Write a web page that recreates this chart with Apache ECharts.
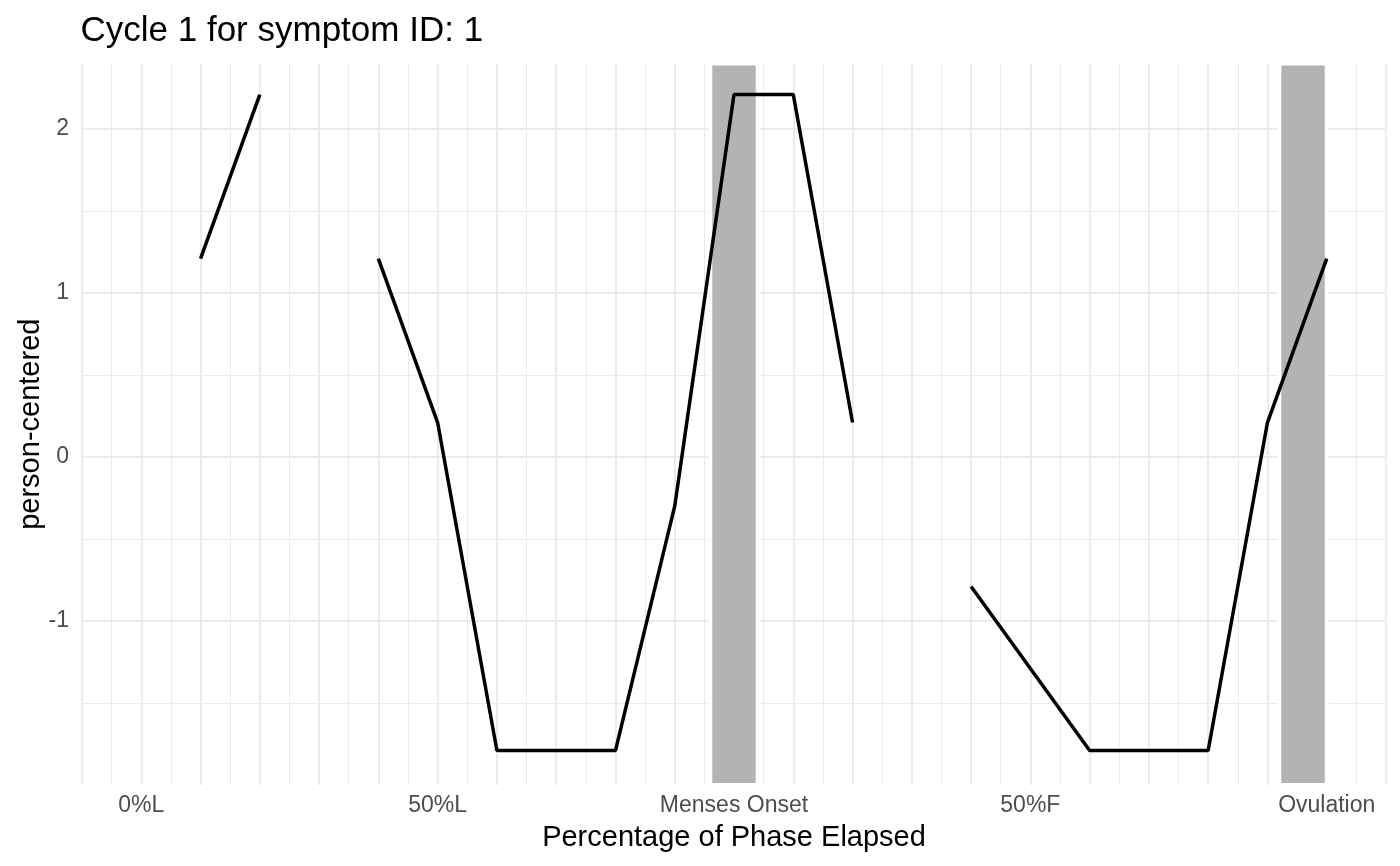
<!DOCTYPE html>
<html>
<head>
<meta charset="utf-8">
<script src="https://cdn.jsdelivr.net/npm/echarts@6/dist/echarts.min.js"></script>
<style>
html,body{margin:0;padding:0;background:#fff;}
#chart{width:1400px;height:866px;}
</style>
</head>
<body>
<div id="chart"></div>
<script>
// Data
const xValues = [0, 10, 20, 30, 40, 50, 60, 70, 80, 90, 100, 110, 120, 130, 140, 150, 160, 170, 180, 190, 200];
const personCentered = [null, 1.21, 2.21, null, 1.21, 0.21, -1.79, -1.79, -1.79, -0.30, 2.21, 2.21, 0.21, null, -0.79, -1.29, -1.79, -1.79, -1.79, 0.21, 1.21];
const tickPositions = [0, 50, 100, 150, 200];
const tickLabels = ['0%L', '50%L', 'Menses Onset', '50%F', 'Ovulation'];
const bandStarts = [96, 192];
const bandEnds = [104, 200];
const titleText = 'Cycle 1 for symptom ID: 1';
const xTitle = 'Percentage of Phase Elapsed';
const yTitle = 'person-centered';

const lineData = xValues.map((x, i) => [x, personCentered[i]]);
const bandData = bandStarts.map((s, i) => [{ xAxis: s }, { xAxis: bandEnds[i] }]);
const labelMap = {};
tickPositions.forEach((p, i) => { labelMap[p] = tickLabels[i]; });

const FONT = 'Liberation Sans, Arial, Helvetica, sans-serif';
const chart = echarts.init(document.getElementById('chart'), null, { renderer: 'canvas' });
chart.setOption({
  animation: false,
  backgroundColor: '#ffffff',
  title: {
    text: titleText,
    left: 80.5,
    top: 14,
    padding: 0,
    textStyle: { fontFamily: FONT, fontSize: 35, fontWeight: 'normal', color: '#000000' }
  },
  grid: { left: 82, right: 14, top: 63.4, bottom: 81, containLabel: false },
  xAxis: {
    type: 'value',
    min: -10,
    max: 210,
    interval: 10,
    name: xTitle,
    nameLocation: 'middle',
    nameGap: 38,
    nameMoveOverlap: false,
    nameTextStyle: { fontFamily: FONT, fontSize: 29, color: '#000000' },
    axisLine: { show: false },
    axisTick: { show: false },
    axisLabel: {
      margin: 9,
      fontFamily: FONT,
      fontSize: 23,
      color: '#4D4D4D',
      showMinLabel: true,
      showMaxLabel: true,
      formatter: v => (labelMap[v] !== undefined ? labelMap[v] : '')
    },
    splitLine: { show: true, lineStyle: { color: '#EBEBEB', width: 2 } },
    minorTick: { show: false, splitNumber: 2 },
    minorSplitLine: { show: true, lineStyle: { color: '#EBEBEB', width: 1 } }
  },
  yAxis: {
    type: 'value',
    min: -2,
    max: 2.4,
    interval: 1,
    name: yTitle,
    nameLocation: 'middle',
    nameGap: 37,
    nameMoveOverlap: false,
    nameRotate: 90,
    nameTextStyle: { fontFamily: FONT, fontSize: 29, color: '#000000' },
    axisLine: { show: false },
    axisTick: { show: false },
    axisLabel: {
      margin: 13,
      fontFamily: FONT,
      fontSize: 23,
      color: '#4D4D4D',
      formatter: v => (Number.isInteger(v) && v > -2 ? String(v) : '')
    },
    splitLine: { show: true, showMinLine: false, showMaxLine: false, lineStyle: { color: '#EBEBEB', width: 2 } },
    minorTick: { show: false, splitNumber: 2 },
    minorSplitLine: { show: true, lineStyle: { color: '#EBEBEB', width: 1 } }
  },
  series: [
    {
      type: 'line',
      data: [],
      z: 1,
      silent: true,
      markArea: {
        silent: true,
        itemStyle: { color: '#B3B3B3', borderColor: '#FFFFFF', borderWidth: 4 },
        data: bandData
      }
    },
    {
      type: 'line',
      data: lineData,
      z: 5,
      symbol: 'none',
      connectNulls: false,
      lineStyle: { color: '#000000', width: 3.5 },
      silent: true
    }
  ]
});
</script>
</body>
</html>
